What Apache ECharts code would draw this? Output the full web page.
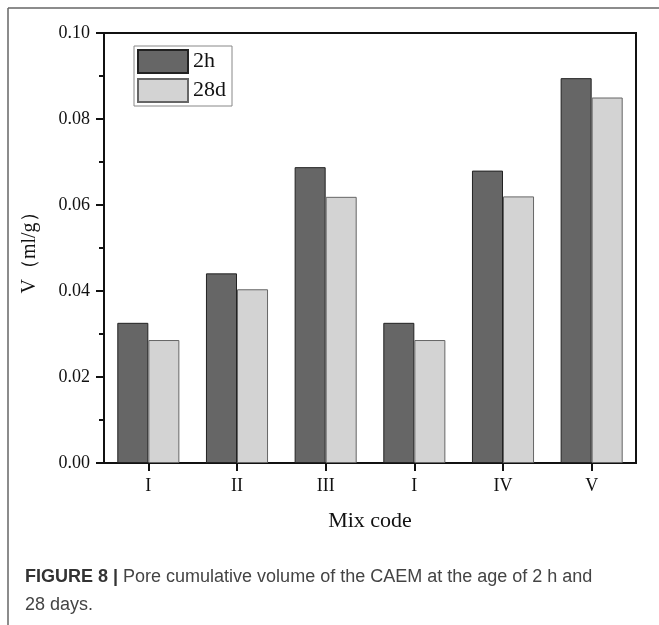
<!DOCTYPE html>
<html><head><meta charset="utf-8">
<script src="https://cdn.jsdelivr.net/npm/echarts@6/dist/echarts.min.js"></script>
<style>html,body{margin:0;padding:0;background:#fff}#c{width:659px;height:625px}</style>
</head><body><div id="c"></div>
<script>
const categories = ['I', 'II', 'III', 'I', 'IV', 'V'];
const series2h = [0.0326, 0.0441, 0.0688, 0.0326, 0.0680, 0.0895];
const series28d = [0.0286, 0.0404, 0.0619, 0.0286, 0.0620, 0.0850];
const yTicks = { min: 0, max: 0.10, interval: 0.02 };

const serif = '"Liberation Serif","DejaVu Serif",serif';
const sans = '"Liberation Sans", Arial, sans-serif';
const chart = echarts.init(document.getElementById('c'), null, { renderer: 'canvas' });
chart.setOption({
  animation: false,
  backgroundColor: '#fff',
  grid: { left: 104, right: 23, top: 33, bottom: 162, show: true, borderColor: '#111', borderWidth: 2, backgroundColor: 'transparent' },
  legend: {
    orient: 'vertical', left: 134, top: 46, padding: [3, 6, 3, 3], itemGap: 4,
    itemWidth: 50, itemHeight: 23,
    borderColor: '#888', borderWidth: 1, backgroundColor: '#fff',
    textStyle: { fontFamily: serif, fontSize: 22, color: '#111' },
    icon: 'rect',
    data: ['2h', '28d']
  },
  xAxis: {
    type: 'category', data: categories,
    name: 'Mix code', nameLocation: 'middle', nameGap: 47,
    nameTextStyle: { fontFamily: serif, fontSize: 22, color: '#111' },
    axisLine: { lineStyle: { color: '#111', width: 2 } },
    axisTick: { show: true, alignWithLabel: true, length: 8, lineStyle: { color: '#111', width: 2 } },
    axisLabel: { fontFamily: serif, fontSize: 18, color: '#111', margin: 14 },
    splitLine: { show: false }
  },
  yAxis: {
    type: 'value', min: yTicks.min, max: yTicks.max, interval: yTicks.interval,
    name: 'V（ml/g）', nameLocation: 'middle', nameGap: 64, nameRotate: 90,
    nameTextStyle: { fontFamily: serif, fontSize: 20, color: '#111' },
    axisLine: { show: true, lineStyle: { color: '#111', width: 2 } },
    axisTick: { show: true, length: 8, lineStyle: { color: '#111', width: 2 } },
    minorTick: { show: true, splitNumber: 2, length: 5, lineStyle: { color: '#111', width: 2 } },
    axisLabel: { fontFamily: serif, fontSize: 18, color: '#111', margin: 14, formatter: v => v.toFixed(2) },
    splitLine: { show: false }
  },
  series: [
    { name: '2h', type: 'bar', data: series2h, barGap: '0%', barCategoryGap: '30%',
      itemStyle: { color: '#666666', borderColor: '#222', borderWidth: 1 } },
    { name: '28d', type: 'bar', data: series28d,
      itemStyle: { color: '#d3d3d3', borderColor: '#666', borderWidth: 1 } }
  ],
  graphic: [
    { type: 'line', shape: { x1: 8, y1: 8, x2: 659, y2: 8 }, style: { stroke: '#666', lineWidth: 1.5 } },
    { type: 'line', shape: { x1: 8, y1: 8, x2: 8, y2: 625 }, style: { stroke: '#666', lineWidth: 1.5 } },
    { type: 'text', left: 25, top: 568, style: {
        text: '{b|FIGURE 8 |} Pore cumulative volume of the CAEM at the age of 2 h and',
        font: '18px ' + sans, fill: '#444',
        rich: { b: { fontWeight: 'bold', fontSize: 18, fontFamily: sans, fill: '#333' } } } },
    { type: 'text', left: 25, top: 596, style: {
        text: '28 days.', font: '18px ' + sans, fill: '#444' } }
  ]
});
</script></body></html>
